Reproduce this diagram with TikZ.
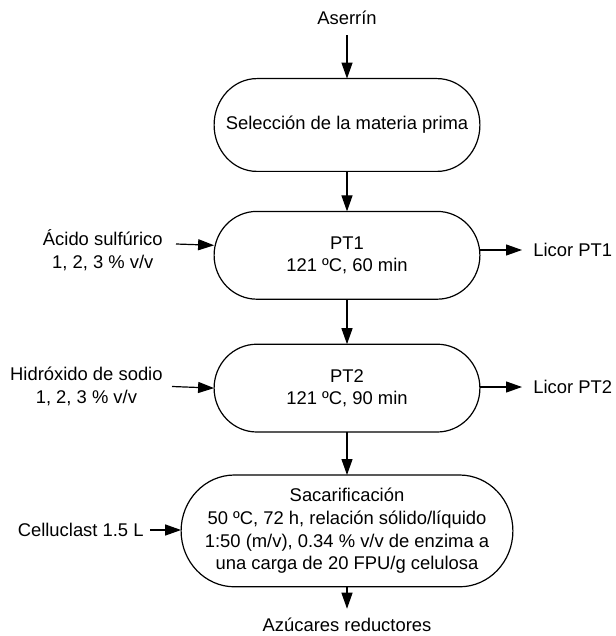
\documentclass[tikz,border=0pt]{standalone}
\usepackage{fontspec}
\setmainfont{Liberation Sans}
\usetikzlibrary{arrows.meta,positioning,calc}

\begin{document}
\begin{tikzpicture}[
    x=0.5pt, y=-0.5pt,
    font=\fontsize{9.2}{11.3}\selectfont,
    box/.style={rectangle, minimum width=132.5pt, minimum height=43.5pt, align=center, inner sep=0pt},
    lbl/.style={align=center, inner sep=0pt},
    outline/.style={draw, line width=0.6pt},
    arrow/.style={-{Triangle[length=8pt, width=5.5pt]}, line width=0.6pt}
  ]
    \useasboundingbox (0,0) rectangle (615,636);

    % Main column
    \node[box, minimum height=46pt] (sel) at (347,125) {Selección de la materia prima};
    \node[box, below=20pt of sel] (pt1) {PT1\\121 ºC, 60 min};
    \node[box, below=22.5pt of pt1] (pt2) {PT2\\121 ºC, 90 min};
    \node[box, minimum width=165.5pt, minimum height=55.5pt, below=21.5pt of pt2] (sac)
      {Sacarificación\\50 ºC, 72 h, relación sólido/líquido\\1:50 (m/v), 0.34 \% v/v de enzima a\\una carga de 20 FPU/g celulosa};

    % Terminator outlines
    \foreach \t in {sel,pt1,pt2,sac}
      \draw[outline] let \p1=(\t.north west), \p2=(\t.south east),
          \n1={0.161*(\x2-\x1)}, \n2={0.5*(\y1-\y2)} in
        ({\x1+\n1*1pt},\y1) -- ({\x2-\n1*1pt},\y1)
        arc[start angle=90, end angle=-90, x radius={\n1*1pt}, y radius={\n2*1pt}]
        -- ({\x1+\n1*1pt},\y2)
        arc[start angle=270, end angle=90, x radius={\n1*1pt}, y radius={\n2*1pt}] -- cycle;

    % Inputs and outputs
    \node[lbl] (aserrin) at (347,18) {Aserrín};
    \node[lbl] (azucares) at (347,625) {Azúcares reductores};
    \node[lbl, anchor=east] (acido) at (163,250) {Ácido sulfúrico\\1, 2, 3 \% v/v};
    \node[lbl, anchor=east] (hidroxido) at (163,386.5) {Hidróxido de sodio\\1, 2, 3 \% v/v};
    \node[lbl, anchor=east] (celluclast) at (144,530) {Celluclast 1.5 L};
    \node[lbl, anchor=west] (licor1) at (533,250) {Licor PT1};
    \node[lbl, anchor=west] (licor2) at (533,387) {Licor PT2};

    % Arrows
    \draw[arrow] ([yshift=-5pt]aserrin.south) -- (sel);
    \draw[arrow] (sel) -- (pt1);
    \draw[arrow] (pt1) -- (pt2);
    \draw[arrow] (pt2) -- (sac);
    \draw[arrow] (sac) -- ([yshift=4.5pt]azucares.north);
    \draw[arrow] ([shift={(6.5pt,3pt)}]acido.east) -- ([yshift=5pt]pt1.west);
    \draw[arrow] ([xshift=4.5pt]hidroxido.east) -- (pt2.west);
    \draw[arrow] ([xshift=3pt]celluclast.east) -- (celluclast.east -| sac.west);
    \draw[arrow] (pt1.east |- licor1) -- ([xshift=-5.5pt]licor1.west);
    \draw[arrow] (pt2.east |- licor2) -- ([xshift=-5.5pt]licor2.west);
  \end{tikzpicture}
\end{document}
